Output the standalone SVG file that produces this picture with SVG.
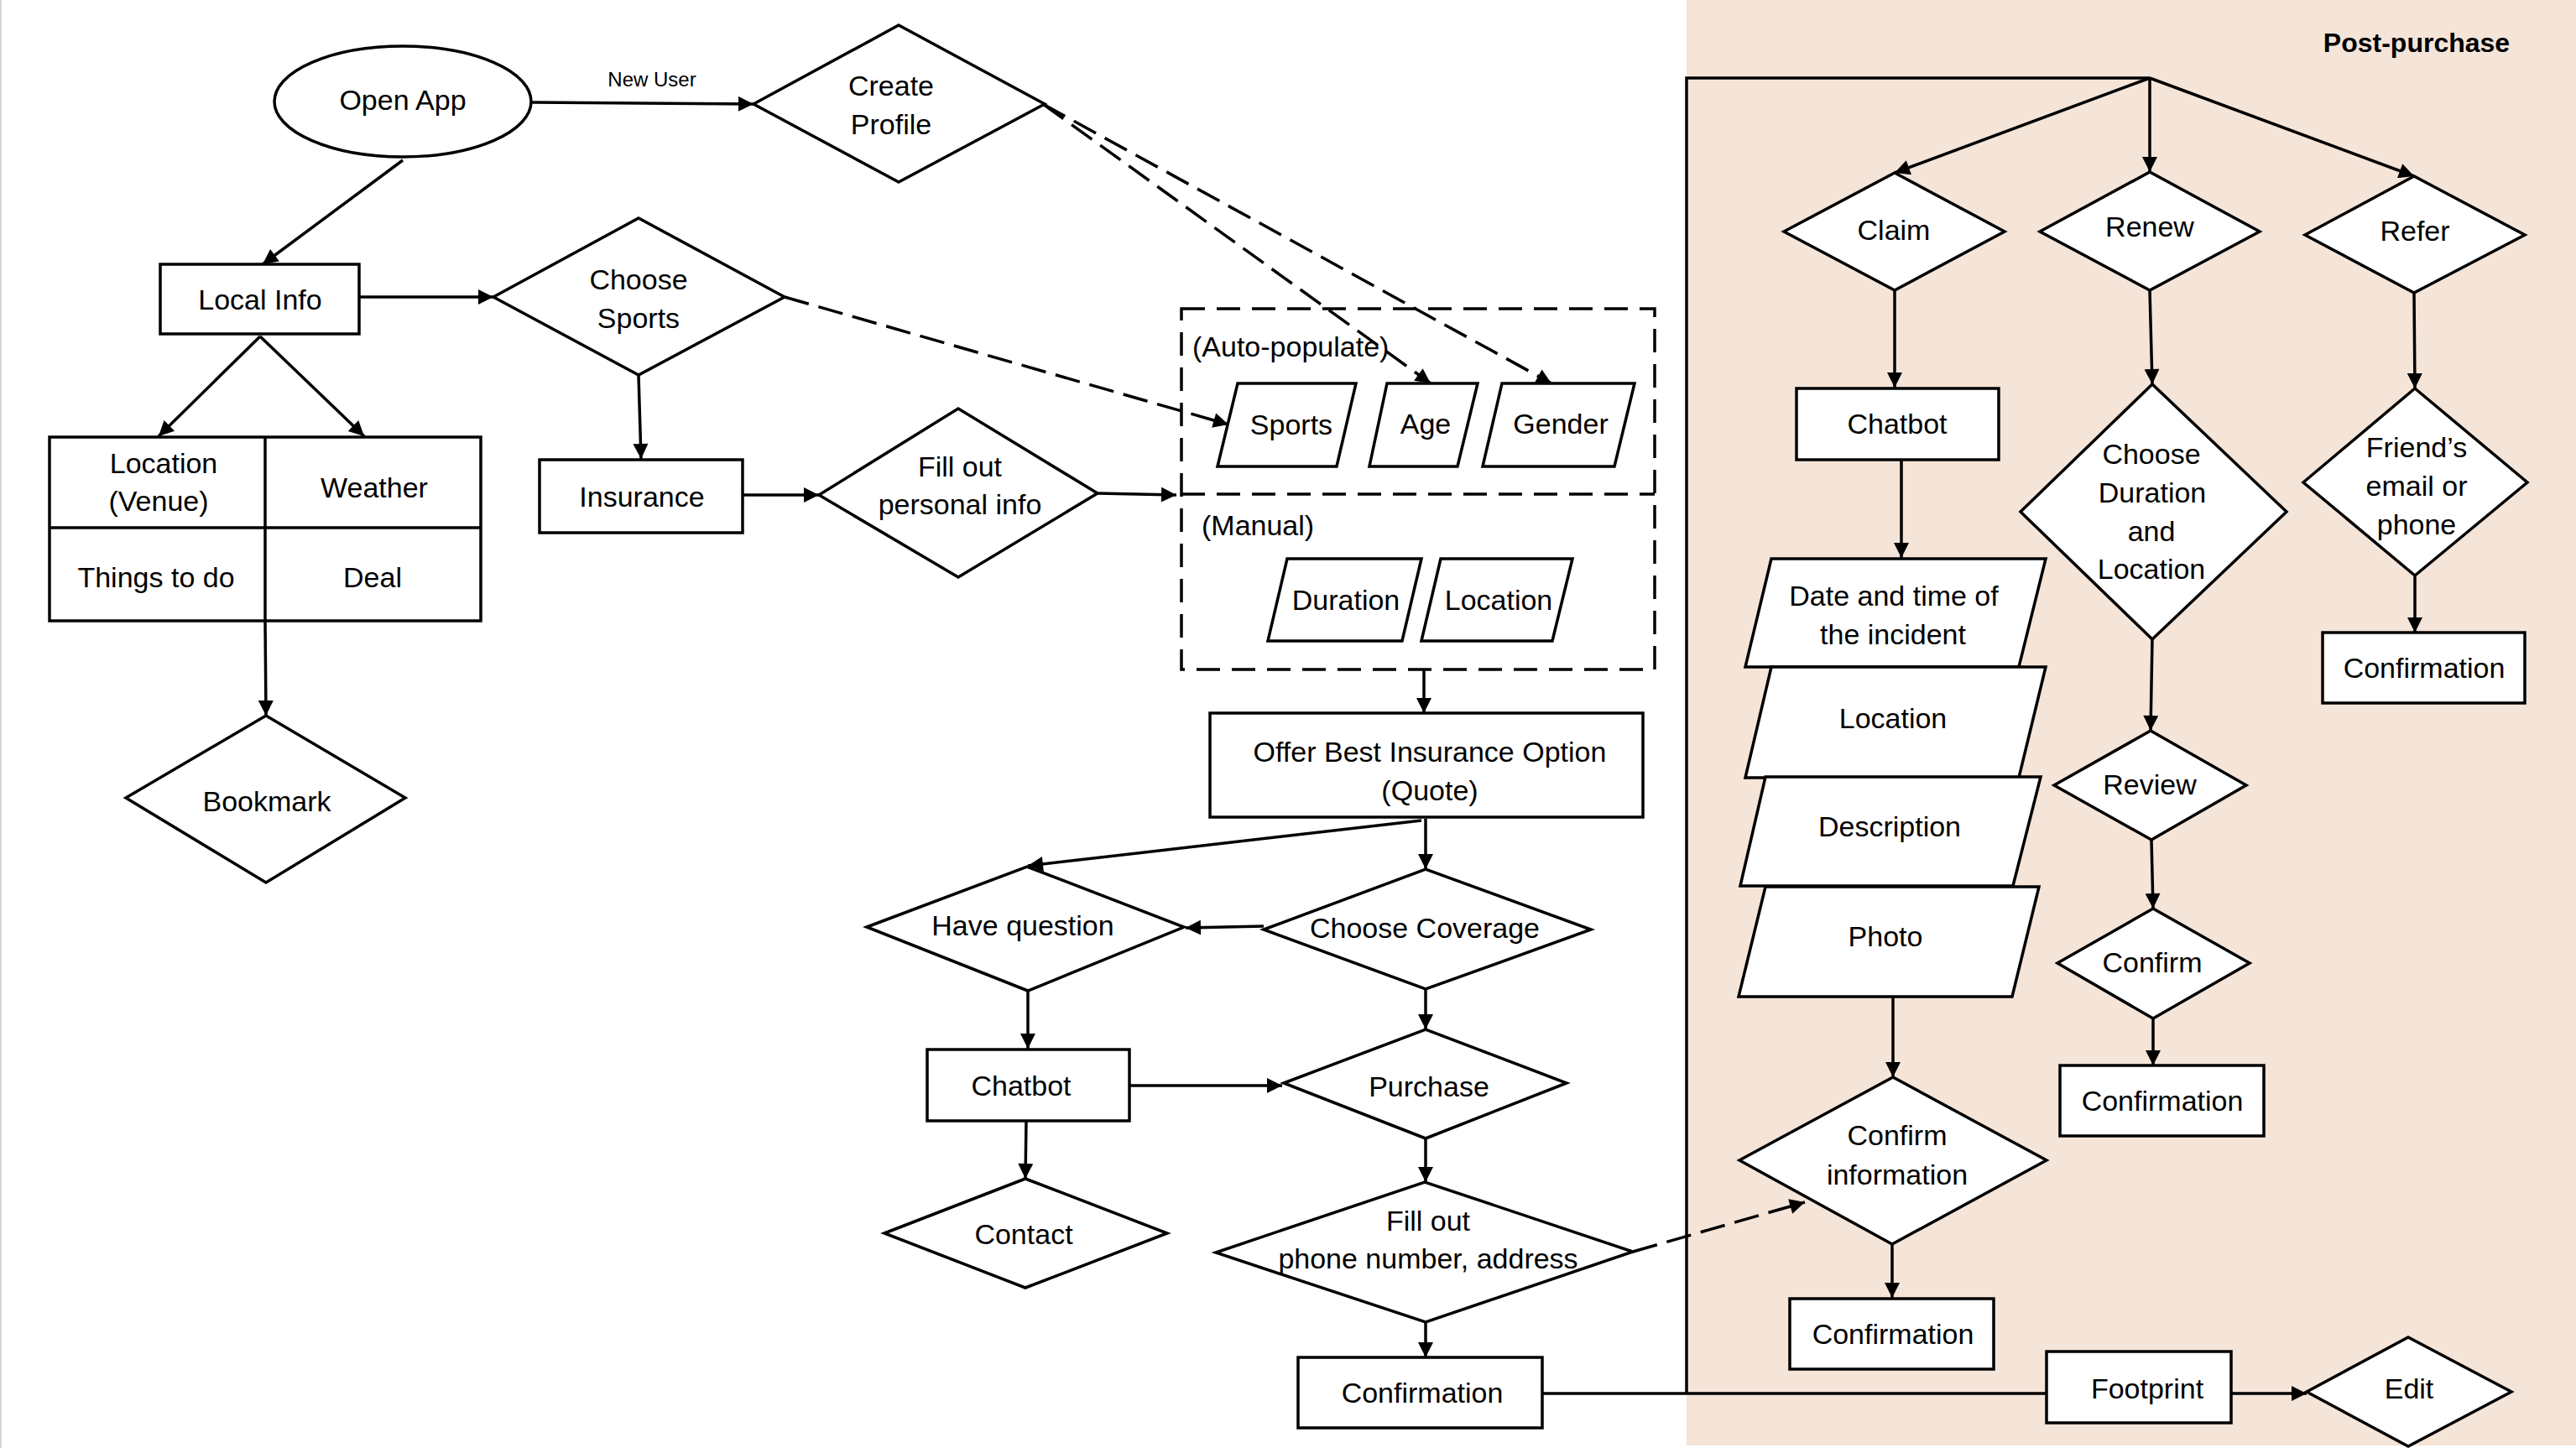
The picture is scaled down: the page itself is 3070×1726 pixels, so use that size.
<svg xmlns="http://www.w3.org/2000/svg" width="3070" height="1726" viewBox="0 0 3070 1726">
<defs>
<marker id="arr" viewBox="0 0 10 10" refX="10" refY="5" markerWidth="23" markerHeight="18" markerUnits="userSpaceOnUse" orient="auto">
<path d="M0,0 L10,5 L0,10 z" fill="#000"/>
</marker>
</defs>
<style>
.s{fill:#fff;stroke:#000;stroke-width:3.5}
.t{font-family:"Liberation Sans",Arial,sans-serif;font-size:34px;fill:#000;text-anchor:middle;dominant-baseline:central}
.tl{font-family:"Liberation Sans",Arial,sans-serif;font-size:34px;fill:#000;dominant-baseline:central}
.c{fill:none;stroke:#000;stroke-width:3.5}
.a{marker-end:url(#arr)}
.d{stroke-dasharray:30 12}
</style>
<rect x="0" y="0" width="3070" height="1726" fill="#fff"/>
<rect x="0" y="0" width="2" height="1726" fill="#d8d8d8"/>
<rect id="post-purchase-bg" x="2010" y="0" width="1060" height="1723" fill="#f5e4d8"/>
<text x="2880" y="51" class="t" style="font-weight:bold;font-size:32px">Post-purchase</text>

<g id="open-app"><ellipse cx="480" cy="121" rx="153" ry="66" class="s"/><text x="480" y="119" class="t">Open App</text></g>
<g id="create-profile"><polygon points="898,124 1071,30 1245,124 1071,217" class="s"/><text x="1062" y="102" class="t">Create</text><text x="1062" y="148" class="t">Profile</text></g>
<g id="local-info"><rect x="191" y="315" width="237" height="83" class="s"/><text x="310" y="357" class="t">Local Info</text></g>
<g id="choose-sports"><polygon points="588,354 761,260 935,354 761,447" class="s"/><text x="761" y="333" class="t">Choose</text><text x="761" y="379" class="t">Sports</text></g>
<g id="info-table"><rect x="59" y="521" width="514" height="219" class="s"/><line x1="316" y1="521" x2="316" y2="740" class="c"/><line x1="59" y1="629" x2="573" y2="629" class="c"/>
<text x="195" y="552" class="t">Location</text><text x="189" y="597" class="t">(Venue)</text><text x="446" y="581" class="t">Weather</text><text x="186" y="688" class="t">Things to do</text><text x="444" y="688" class="t">Deal</text></g>
<g id="bookmark"><polygon points="150,951 317,853 483,951 317,1052" class="s"/><text x="318" y="955" class="t">Bookmark</text></g>
<g id="insurance"><rect x="643" y="548" width="242" height="87" class="s"/><text x="765" y="592" class="t">Insurance</text></g>
<g id="fill-personal"><polygon points="976,590 1142,487 1308,588 1142,688" class="s"/><text x="1144" y="556" class="t">Fill out</text><text x="1144" y="601" class="t">personal info</text></g>
<g id="info-container"><rect x="1408" y="368" width="564" height="430" fill="none" stroke="#000" stroke-width="3.5" stroke-dasharray="28 14"/><line x1="1408" y1="589" x2="1972" y2="589" stroke="#000" stroke-width="3.5" stroke-dasharray="28 14"/>
<text x="1421" y="413" class="tl">(Auto-populate)</text><text x="1432" y="626" class="tl">(Manual)</text></g>
<g id="sports"><polygon points="1475,457 1616,457 1593,556 1451,556" class="s"/><text x="1539" y="506" class="t">Sports</text></g>
<g id="age"><polygon points="1653,457 1761,457 1737,556 1632,556" class="s"/><text x="1699" y="505" class="t">Age</text></g>
<g id="gender"><polygon points="1790,457 1948,457 1924,556 1767,556" class="s"/><text x="1860" y="505" class="t">Gender</text></g>
<g id="duration"><polygon points="1534,666 1694,666 1671,764 1511,764" class="s"/><text x="1604" y="715" class="t">Duration</text></g>
<g id="location-manual"><polygon points="1717,666 1874,666 1850,764 1694,764" class="s"/><text x="1786" y="715" class="t">Location</text></g>
<g id="offer"><rect x="1442" y="850" width="516" height="124" class="s"/><text x="1704" y="896" class="t">Offer Best Insurance Option</text><text x="1704" y="942" class="t">(Quote)</text></g>
<g id="have-question"><polygon points="1033,1105 1224,1033 1411,1105 1225,1181" class="s"/><text x="1219" y="1103" class="t">Have question</text></g>
<g id="choose-coverage"><polygon points="1506,1108 1699,1036 1896,1108 1699,1179" class="s"/><text x="1698" y="1106" class="t">Choose Coverage</text></g>
<g id="chatbot-1"><rect x="1105" y="1251" width="241" height="85" class="s"/><text x="1217" y="1294" class="t">Chatbot</text></g>
<g id="purchase"><polygon points="1530,1291 1699,1227 1867,1291 1699,1357" class="s"/><text x="1703" y="1295" class="t">Purchase</text></g>
<g id="contact"><polygon points="1054,1470 1222,1405 1391,1470 1222,1535" class="s"/><text x="1220" y="1471" class="t">Contact</text></g>
<g id="fill-phone"><polygon points="1449,1493 1698,1409 1946,1492 1699,1576" class="s"/><text x="1702" y="1455" class="t">Fill out</text><text x="1702" y="1500" class="t">phone number, address</text></g>
<g id="confirmation-1"><rect x="1547" y="1618" width="291" height="84" class="s"/><text x="1695" y="1660" class="t">Confirmation</text></g>

<g id="claim"><polygon points="2126,276 2258,206 2389,276 2258,346" class="s"/><text x="2257" y="274" class="t">Claim</text></g>
<g id="renew"><polygon points="2431,276 2562,205 2693,276 2562,346" class="s"/><text x="2562" y="270" class="t">Renew</text></g>
<g id="refer"><polygon points="2747,280 2877,210 3009,280 2877,349" class="s"/><text x="2878" y="275" class="t">Refer</text></g>
<g id="chatbot-2"><rect x="2141" y="463" width="241" height="85" class="s"/><text x="2261" y="505" class="t">Chatbot</text></g>
<g id="date-time"><polygon points="2111,666 2438,666 2406,795 2080,795" class="s"/><text x="2257" y="710" class="t">Date and time of</text><text x="2256" y="756" class="t">the incident</text></g>
<g id="location-claim"><polygon points="2111,795 2438,795 2406,927 2080,927" class="s"/><text x="2256" y="856" class="t">Location</text></g>
<g id="description"><polygon points="2104,926 2432,926 2399,1056 2074,1056" class="s"/><text x="2252" y="985" class="t">Description</text></g>
<g id="photo"><polygon points="2104,1057 2430,1057 2398,1188 2072,1188" class="s"/><text x="2247" y="1116" class="t">Photo</text></g>
<g id="confirm-info"><polygon points="2073,1383 2256,1284 2439,1383 2255,1483" class="s"/><text x="2261" y="1353" class="t">Confirm</text><text x="2261" y="1400" class="t">information</text></g>
<g id="confirmation-claim"><rect x="2133" y="1548" width="243" height="84" class="s"/><text x="2256" y="1590" class="t">Confirmation</text></g>
<g id="choose-duration"><polygon points="2408,610 2565,458 2725,610 2565,762" class="s"/><text x="2564" y="541" class="t">Choose</text><text x="2565" y="587" class="t">Duration</text><text x="2564" y="633" class="t">and</text><text x="2564" y="678" class="t">Location</text></g>
<g id="review"><polygon points="2448,936 2563,871 2677,936 2564,1001" class="s"/><text x="2562" y="935" class="t">Review</text></g>
<g id="confirm"><polygon points="2452,1148 2566,1083 2681,1148 2566,1214" class="s"/><text x="2565" y="1147" class="t">Confirm</text></g>
<g id="confirmation-renew"><rect x="2455" y="1270" width="243" height="84" class="s"/><text x="2577" y="1312" class="t">Confirmation</text></g>
<g id="friends"><polygon points="2745,575 2878,463 3012,575 2878,686" class="s"/><text x="2880" y="533" class="t">Friend’s</text><text x="2880" y="579" class="t">email or</text><text x="2880" y="625" class="t">phone</text></g>
<g id="confirmation-refer"><rect x="2768" y="754" width="241" height="84" class="s"/><text x="2889" y="796" class="t">Confirmation</text></g>
<g id="footprint"><rect x="2439" y="1611" width="220" height="85" class="s"/><text x="2559" y="1655" class="t">Footprint</text></g>
<g id="edit"><polygon points="2749,1659 2870,1594 2993,1659 2870,1724" class="s"/><text x="2871" y="1655" class="t">Edit</text></g>

<g id="connectors">
<line x1="634" y1="122" x2="898" y2="124" class="c a"/>
<text x="777" y="94" class="t" style="font-size:24px">New User</text>
<line x1="480" y1="191" x2="313" y2="315" class="c a"/>
<line x1="428" y1="354" x2="588" y2="354" class="c a"/>
<line x1="310" y1="401" x2="189" y2="520" class="c a"/>
<line x1="310" y1="401" x2="434" y2="520" class="c a"/>
<line x1="316" y1="740" x2="317" y2="853" class="c a"/>
<line x1="761" y1="447" x2="764" y2="547" class="c a"/>
<line x1="885" y1="590" x2="976" y2="590" class="c a"/>
<line x1="1308" y1="588" x2="1402" y2="590" class="c a"/>
<line x1="935" y1="354" x2="1464" y2="506" class="c a d"/>
<line x1="1243" y1="124" x2="1705" y2="457" class="c a d"/>
<line x1="1243" y1="124" x2="1849" y2="457" class="c a d"/>
<line x1="1697" y1="798" x2="1697" y2="850" class="c a"/>
<line x1="1694" y1="978" x2="1225" y2="1032" class="c a"/>
<line x1="1699" y1="976" x2="1699" y2="1036" class="c a"/>
<line x1="1506" y1="1104" x2="1413" y2="1106" class="c a"/>
<line x1="1225" y1="1181" x2="1225" y2="1250" class="c a"/>
<line x1="1346" y1="1294" x2="1528" y2="1294" class="c a"/>
<line x1="1699" y1="1179" x2="1699" y2="1227" class="c a"/>
<line x1="1223" y1="1336" x2="1222" y2="1405" class="c a"/>
<line x1="1699" y1="1357" x2="1699" y2="1409" class="c a"/>
<line x1="1699" y1="1576" x2="1699" y2="1618" class="c a"/>
<line x1="1946" y1="1492" x2="2151" y2="1433" class="c a d"/>
<polyline points="1838,1661 2439,1661" class="c"/>
<polyline points="2010,1661 2010,93 2562,93" class="c"/>
<line x1="2562" y1="93" x2="2258" y2="206" class="c a"/>
<line x1="2562" y1="93" x2="2562" y2="205" class="c a"/>
<line x1="2562" y1="93" x2="2877" y2="210" class="c a"/>
<line x1="2258" y1="346" x2="2258" y2="462" class="c a"/>
<line x1="2266" y1="548" x2="2266" y2="665" class="c a"/>
<line x1="2256" y1="1188" x2="2256" y2="1284" class="c a"/>
<line x1="2255" y1="1483" x2="2255" y2="1547" class="c a"/>
<line x1="2562" y1="346" x2="2565" y2="458" class="c a"/>
<line x1="2565" y1="762" x2="2563" y2="871" class="c a"/>
<line x1="2564" y1="1001" x2="2566" y2="1083" class="c a"/>
<line x1="2566" y1="1214" x2="2566" y2="1270" class="c a"/>
<line x1="2877" y1="349" x2="2878" y2="463" class="c a"/>
<line x1="2878" y1="686" x2="2878" y2="754" class="c a"/>
<line x1="2659" y1="1661" x2="2749" y2="1661" class="c a"/>
</g>
</svg>
